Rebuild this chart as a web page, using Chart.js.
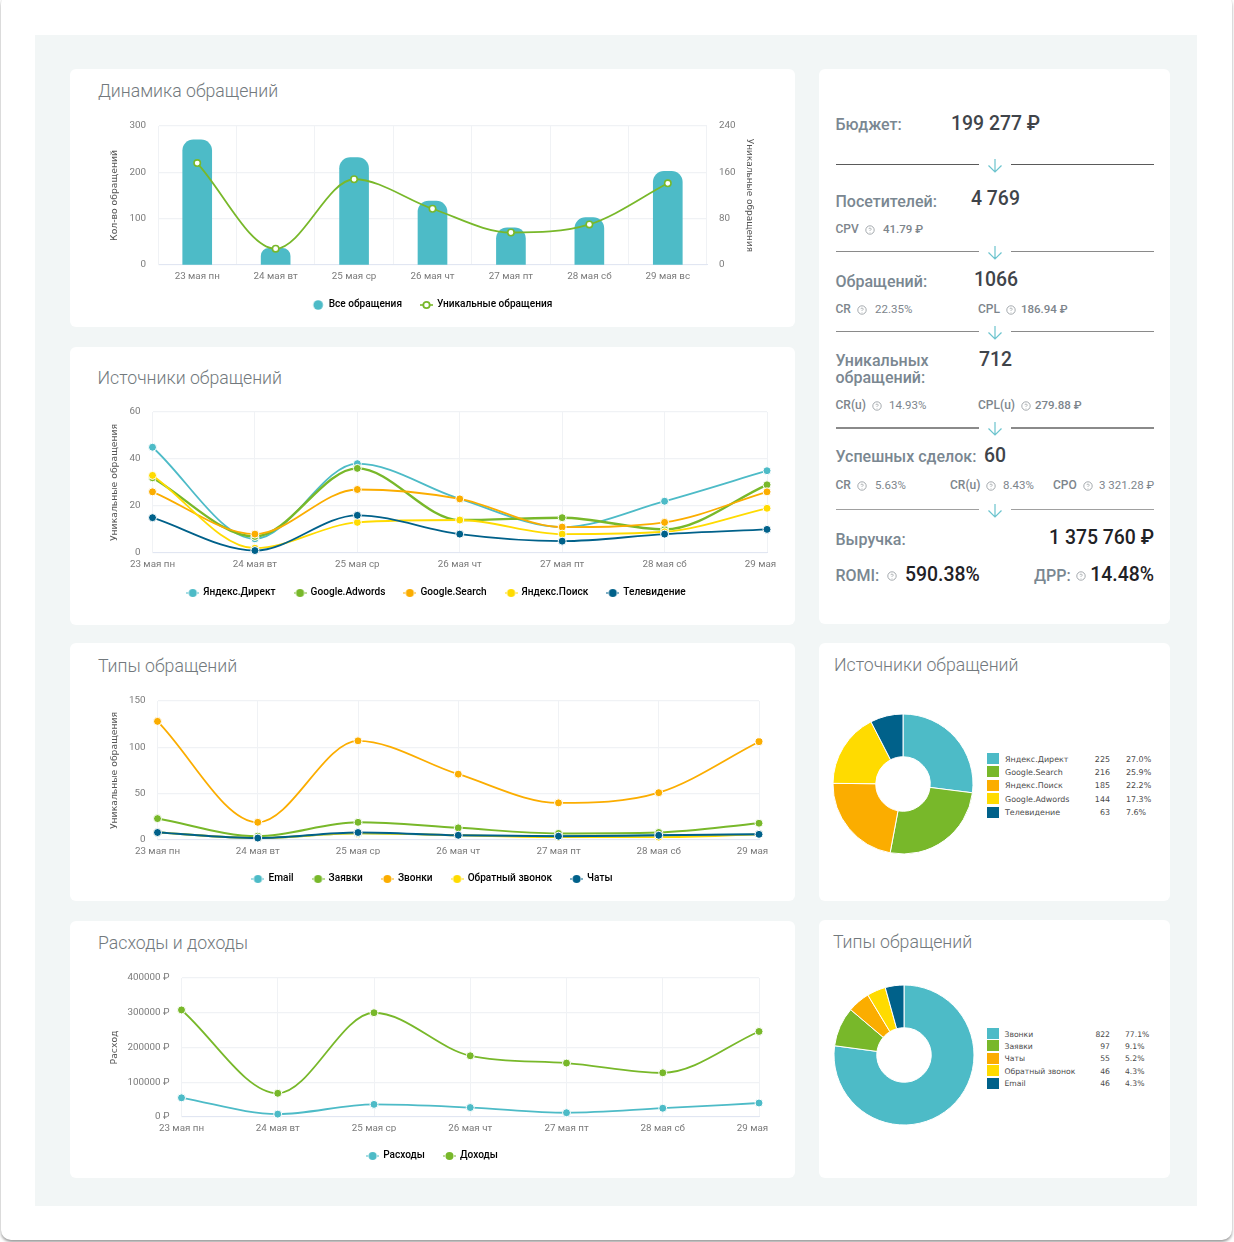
<!DOCTYPE html>
<html lang="ru"><head><meta charset="utf-8">
<script src="https://cdn.jsdelivr.net/npm/chart.js@4"></script>
<style>
html,body{margin:0;padding:0;background:#fff;width:1234px;height:1242px;overflow:hidden;font-family:Roboto,sans-serif}
#frame{position:absolute;left:1px;top:-6px;width:1231px;height:1246px;background:#fff;border-radius:10px;box-shadow:0 2px 3px rgba(0,0,0,.4)}
#bg{position:absolute;left:35px;top:35px;width:1162px;height:1171px;background:#f2f6f6}
.card{position:absolute;background:#fff;border-radius:6px}
.title{position:absolute;font:300 17.7px Roboto,sans-serif;color:#72797d;white-space:nowrap;transform:translateY(-50%)}
canvas{position:absolute}
.t{position:absolute;white-space:nowrap;transform:translateY(-50%)}
.hr{position:absolute;height:1px;background:#666}
.sw{position:absolute;width:12px;height:11px}
.lg{position:absolute;white-space:nowrap;font-family:"DejaVu Sans",sans-serif;color:#4a4a4a;transform:translateY(-50%)}
</style></head><body>
<div id="frame"></div><div id="bg"></div>
<div id="root"></div>
<script>
const days = ["23 мая пн","24 мая вт","25 мая ср","26 мая чт","27 мая пт","28 мая сб","29 мая вс"];

const allRequests = [270,36,232,138,80,102,202];
const uniqueRequests = [176,28,148,97,56,70,141];

const srcDirect = [45,6,38,23,11,22,35];
const srcAdwords = [32,7,36,14,15,10,29];
const srcSearch = [26,8,27,23,11,13,26];
const srcPoisk = [33,2,13,14,8,9,19];
const srcTv = [15,1,16,8,5,8,10];

const typeEmail = [8,2,7,5,4,5,6];
const typeForms = [23,4,19,13,7,8,18];
const typeCalls = [128,19,107,71,40,51,106];
const typeCallback = [8,2,7,5,3,3,6];
const typeChats = [8,2,8,5,4,5,6];

const costs = [55000,8000,36000,27000,12000,25000,40000];
const income = [308000,68000,300000,176000,155000,127000,246000];

const pie1Labels = ["Яндекс.Директ","Google.Search","Яндекс.Поиск","Google.Adwords","Телевидение"];
const pie1Values = [225,216,185,144,63];
const pie1Pct = ["27.0%","25.9%","22.2%","17.3%","7.6%"];
const pie2Labels = ["Звонки","Заявки","Чаты","Обратный звонок","Email"];
const pie2Values = [822,97,55,46,46];
const pie2Pct = ["77.1%","9.1%","5.2%","4.3%","4.3%"];

const TEAL="#4dbbc7",GREEN="#78b82a",ORANGE="#fbad00",YELLOW="#ffdb00",BLUE="#00618a";
const palette=[TEAL,GREEN,ORANGE,YELLOW,BLUE];
const root=document.getElementById("root");
const GRID="#f0f2f5",BASE="#e1e6f2",TICK="#7b7b7b";
const tickFont={family:"Roboto",size:9.8};
const titleFont={family:"DejaVu Sans",size:9.25};
const LEG_H=40;

function el(cls,css,text,parent){const d=document.createElement("div");d.className=cls;Object.assign(d.style,css);if(text!=null)d.textContent=text;(parent||root).appendChild(d);return d;}
function card(x,y,w,h){el("card",{left:x+"px",top:y+"px",width:w+"px",height:h+"px"});}
function title(x,y,s){el("title",{left:x+"px",top:y+"px"},s);}
function legendIcon(color,ring,tails){
  const c=document.createElement("canvas");c.width=13;c.height=10;const g=c.getContext("2d");
  if(tails){g.strokeStyle=color;g.lineWidth=ring?1.6:1.2;g.setLineDash(ring?[]:[2,9]);g.beginPath();g.moveTo(0,5);g.lineTo(13,5);g.stroke();g.setLineDash([]);}
  g.beginPath();g.arc(6.5,5,ring?3.2:(tails?4:4.8),0,Math.PI*2);
  if(ring){g.fillStyle="#fff";g.fill();g.lineWidth=1.8;g.strokeStyle=color;g.stroke();}
  else{g.fillStyle=color;g.fill();}
  return c;
}
function legendOpts(){
  return {position:"bottom",labels:{usePointStyle:true,pointStyleWidth:11,padding:19,color:"#444",font:{family:"Roboto",size:10.1,weight:"500"},
    generateLabels(ch){return ch.data.datasets.map((d,i)=>({text:d.label,pointStyle:d._icon,fillStyle:d.borderColor,strokeStyle:d.borderColor,lineWidth:0,hidden:false,datasetIndex:i}));}}};
}
function makeChart(o){
  const cv=document.createElement("canvas");
  const X_H=o.xh||16,dx=o.dx||0;
  const cx=70+dx,cw=725,cy=o.top,ch=(o.plotB-o.top)+X_H+LEG_H,edge=cx+cw;
  cv.width=cw;cv.height=ch;cv.style.left=cx+"px";cv.style.top=cy+"px";
  if(o.clipR)cv.style.clipPath="inset(0 "+(edge-o.clipR)+"px 0 0)";
  root.appendChild(cv);
  const scales={
    x:{type:"category",offset:!!o.bars,grid:{color:GRID,drawTicks:false,lineWidth:1},border:{color:BASE},
      ticks:{color:TICK,font:tickFont,padding:6,maxRotation:0,autoSkip:false},
      afterFit(s){s.height=X_H;s.paddingLeft=0;s.paddingRight=o.right2?0:edge-o.plotR;}},
    y:{min:0,max:o.max,position:"left",grid:{color:GRID,drawTicks:false,lineWidth:1.2},border:{color:GRID},
      title:{display:true,text:o.yTitle,color:"#555",font:titleFont,padding:{top:39-dx,bottom:0}},
      ticks:{stepSize:o.step,color:TICK,font:tickFont,padding:12,callback:o.fmt||(v=>v)},
      afterFit(s){s.width=o.plotL-cx;s.paddingTop=0;s.paddingBottom=0;}}
  };
  if(o.right2){scales.y1={min:0,max:o.right2.max,position:"right",grid:{display:false,drawTicks:false},border:{display:false},
      title:{display:true,text:o.right2.title,color:"#555",font:{family:"DejaVu Sans",size:8.95},padding:{top:40,bottom:0}},
      ticks:{stepSize:o.right2.step,color:TICK,font:tickFont,padding:12},
      afterFit(s){s.width=edge-o.plotR;s.paddingTop=0;s.paddingBottom=0;}};}
  if(!o.bars)o.datasets.forEach((d,i)=>{d.order=o.datasets.length-i;});
  return new Chart(cv,{type:o.bars?"bar":"line",data:{labels:days,datasets:o.datasets},
    options:{responsive:false,animation:false,devicePixelRatio:1,layout:{padding:{top:o.plotT-o.top,left:0,right:0,bottom:0}},
      plugins:{legend:legendOpts(),tooltip:{enabled:false}},scales}});
}
function lineDs(label,data,color,w){return {type:"line",label,data,borderColor:color,backgroundColor:color,borderWidth:w||1.8,pointRadius:4,pointBorderColor:"#fff",pointBorderWidth:1,pointBackgroundColor:color,cubicInterpolationMode:"monotone",fill:false,clip:false,_icon:legendIcon(color,false,true)};}

card(70,69,725,258);card(70,347,725,278);card(70,643,725,258);card(70,921,725,257);
card(819,69,351,555);card(819,643,351,258);card(819,920,351,258);
title(98,91,"Динамика обращений");title(97.5,377.5,"Источники обращений");title(98,666,"Типы обращений");title(98,943,"Расходы и доходы");
title(834,665,"Источники обращений");title(833,942,"Типы обращений");

makeChart({top:100,plotL:158,plotR:707,plotT:126,plotB:264,max:300,step:100,yTitle:"Кол-во обращений",bars:true,
  right2:{max:240,step:80,title:"Уникальные обращения"},
  datasets:[
   {type:"bar",label:"Все обращения",data:allRequests,yAxisID:"y",order:1,backgroundColor:TEAL,borderColor:TEAL,barThickness:29,borderRadius:{topLeft:11,topRight:11,bottomLeft:0,bottomRight:0},borderSkipped:false,_icon:legendIcon(TEAL,false,false)},
   {type:"line",label:"Уникальные обращения",data:uniqueRequests,yAxisID:"y1",order:0,borderColor:GREEN,borderWidth:1.8,pointRadius:3.2,pointBackgroundColor:"#fff",pointBorderColor:GREEN,pointBorderWidth:1.6,cubicInterpolationMode:"monotone",fill:false,clip:false,_icon:legendIcon(GREEN,true,true)}
  ]});
makeChart({top:390,dx:4,plotL:152.5,plotR:767,plotT:412,plotB:552,max:60,step:20,yTitle:"Уникальные обращения",clipR:776,
  datasets:[lineDs("Яндекс.Директ",srcDirect,TEAL),lineDs("Google.Adwords",srcAdwords,GREEN,2.4),lineDs("Google.Search",srcSearch,ORANGE),lineDs("Яндекс.Поиск",srcPoisk,YELLOW),lineDs("Телевидение",srcTv,BLUE)]});
makeChart({top:680,xh:15,plotL:157.5,plotR:759,plotT:701,plotB:839,max:150,step:50,yTitle:"Уникальные обращения",clipR:768,
  datasets:[lineDs("Email",typeEmail,TEAL),lineDs("Заявки",typeForms,GREEN,2),lineDs("Звонки",typeCalls,ORANGE),lineDs("Обратный звонок",typeCallback,YELLOW),lineDs("Чаты",typeChats,BLUE,2)]});
makeChart({top:955,xh:15,plotL:181.5,plotR:759,plotT:978,plotB:1116,max:400000,step:100000,yTitle:"Расход",clipR:768,fmt:v=>v+" ₽",
  datasets:[lineDs("Расходы",costs,TEAL),lineDs("Доходы",income,GREEN)]});

function pie(cx,cy,labels,values,pct,legTop,pitch,nameX,fs,pctX){
  const cv=document.createElement("canvas");cv.width=150;cv.height=150;cv.style.left=(cx-75)+"px";cv.style.top=(cy-75)+"px";root.appendChild(cv);
  new Chart(cv,{type:"doughnut",data:{labels,datasets:[{data:values,backgroundColor:palette,borderColor:"#fff",borderWidth:1}]},
    options:{responsive:false,animation:false,devicePixelRatio:1,radius:70,cutout:29,layout:{padding:0},plugins:{legend:{display:false},tooltip:{enabled:false}}}});
  labels.forEach((n,i)=>{
    const y=legTop+pitch*i;
    el("sw",{left:"987px",top:(y-5.5)+"px",background:palette[i]});
    el("lg",{left:nameX+"px",top:y+"px",fontSize:fs+"px"},n);
    el("lg",{left:"1070px",width:"40px",textAlign:"right",top:y+"px",fontSize:fs+"px"},String(values[i]));
    el("lg",{left:pctX+"px",top:y+"px",fontSize:fs+"px"},pct[i]);
  });
}
pie(903,784,pie1Labels,pie1Values,pie1Pct,758.5,13.4,1005,7.95,1126);
pie(903.5,1055,pie2Labels,pie2Values,pie2Pct,1033.5,12.4,1004.5,7.66,1125);

const LBL="#7a8791",VAL="#3f444a",SUB="#7d858c";
const V=19.4;
function T(x,y,s,size,color,weight,right){
  const css={top:y+"px",font:(weight||400)+" "+size+"px Roboto,sans-serif",color};
  if(right)css.right=(1234-x)+"px";else css.left=x+"px";
  return el("t",css,s);
}
function q(x,y){
  const s=document.createElementNS("http://www.w3.org/2000/svg","svg");s.setAttribute("width","10");s.setAttribute("height","10");s.setAttribute("viewBox","0 0 10 10");
  s.style.cssText="position:absolute;left:"+(x-5)+"px;top:"+(y-5)+"px";
  s.innerHTML='<circle cx="5" cy="5" r="4.2" fill="none" stroke="#8f959a" stroke-width=".8"/><path d="M3.9 4.1a1.1 1.1 0 1 1 1.6 1L5 5.6v.4M5 7v.5" fill="none" stroke="#8f959a" stroke-width=".7"/>';
  root.appendChild(s);
}
function sep(y,h,color){
  el("hr",{left:"836px",width:"143px",top:y+"px",height:(h||1)+"px",background:color||"#8a8a8a"});
  el("hr",{left:"1011px",width:"143px",top:y+"px",height:(h||1)+"px",background:color||"#8a8a8a"});
  const s=document.createElementNS("http://www.w3.org/2000/svg","svg");s.setAttribute("width","16");s.setAttribute("height","16");s.setAttribute("viewBox","0 0 16 16");
  s.style.cssText="position:absolute;left:987px;top:"+(y-6)+"px";
  s.innerHTML='<path d="M8 1V14M1.5 7.5 8 14 14.5 7.5" fill="none" stroke="#6cc4ce" stroke-width="1.2"/>';
  root.appendChild(s);
}
T(835.5,124,"Бюджет:",16,LBL,500);T(951,123,"199 277 ₽",V,VAL,500);sep(164,1,"#5a5a5a");
T(835.5,201,"Посетителей:",16,LBL,500);T(971,198,"4 769",V,VAL,500);
T(835.5,229,"CPV",12,SUB,500);q(870,230);T(883,229,"41.79 ₽",11.5,SUB,500);sep(251);
T(835.5,281,"Обращений:",16,LBL,500);T(974,279,"1066",V,VAL,500);
T(835.5,309,"CR",12,SUB,500);q(862,310);T(875,309,"22.35%",11.5,SUB);
T(978,309,"CPL",12,SUB,500);q(1011,310);T(1021,309,"186.94 ₽",11.5,SUB,500);sep(331);
T(835.5,360,"Уникальных",16,LBL,500);T(835.5,377,"обращений:",16,LBL,500);T(979,359,"712",V,VAL,500);
T(835.5,405,"CR(u)",12,SUB,500);q(877,406);T(889,405,"14.93%",11.5,SUB);
T(978,405,"CPL(u)",12,SUB,500);q(1026,406);T(1035,405,"279.88 ₽",11.5,SUB,500);sep(426.5,2);
T(835.5,456,"Успешных сделок:",16,LBL,500);T(984,455,"60",V,VAL,500);
T(835.5,485,"CR",12,SUB,500);q(862,486);T(875,485,"5.63%",11.5,SUB);
T(950,485,"CR(u)",12,SUB,500);q(991,486);T(1003,485,"8.43%",11.5,SUB);
T(1053,485,"CPO",12,SUB,500);q(1088,486);T(1099,485,"3 321.28 ₽",11.5,SUB);sep(509,1,"#a0a0a0");
T(835.5,539,"Выручка:",16,LBL,500);T(1154,537,"1 375 760 ₽",V,"#1f2226",500,true);
T(835.5,575,"ROMI:",16,LBL,500);q(892,576);T(905,574,"590.38%",V,"#1f2226",500);
T(1034,575,"ДРР:",16,LBL,500);q(1081,576);T(1154,574,"14.48%",V,"#1f2226",500,true);
</script>
</body></html>
